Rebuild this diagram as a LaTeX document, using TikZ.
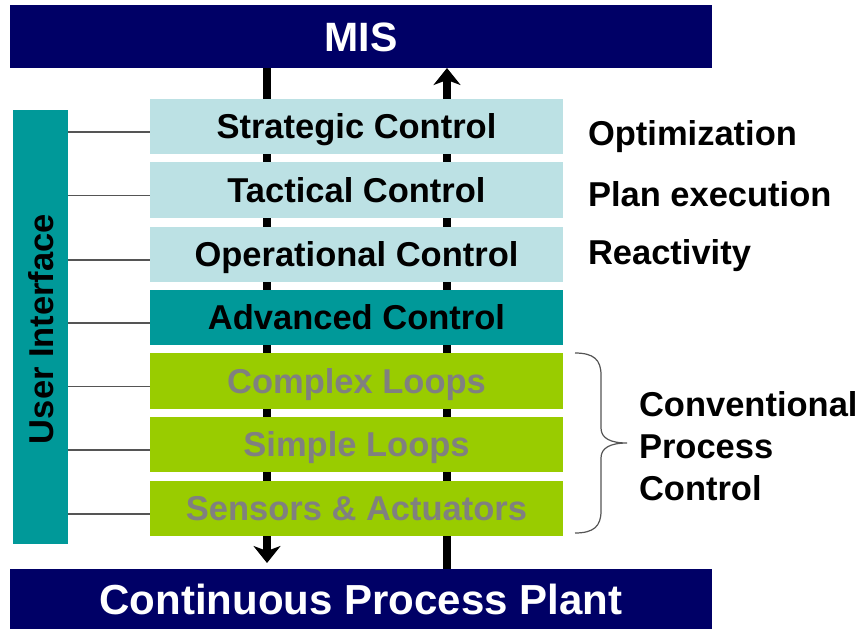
\documentclass[tikz,border=0pt]{standalone}
\usepackage{fontspec}
\setmainfont{Liberation Sans}
\usetikzlibrary{arrows.meta}
\definecolor{navy}{RGB}{0,0,102}
\definecolor{paleteal}{RGB}{188,225,228}
\definecolor{deepteal}{RGB}{0,153,153}
\definecolor{lime}{RGB}{153,204,0}
\definecolor{loopgray}{RGB}{128,128,128}
\definecolor{wire}{RGB}{85,85,85}
\begin{document}
\begin{tikzpicture}[x=1pt,y=-1pt,
  every node/.style={inner sep=0pt, outer sep=0pt,
    font=\bfseries\fontsize{34.5}{42}\selectfont},
  band/.style={fill=navy, text=white, anchor=north west,
    minimum width=702pt, minimum height=63pt,
    font=\bfseries\fontsize{41}{48}\selectfont,
    text height=29.4pt, text depth=0pt},
  layer/.style={anchor=north west, minimum width=413pt, minimum height=55pt,
    text height=24.7pt, text depth=0pt},
  upper/.style={layer, fill=paleteal, text=black},
  loop/.style={layer, fill=lime, text=loopgray},
  note/.style={anchor=west, text height=24.7pt, text depth=0pt},
  link/.style={draw=wire, line width=1.5pt},
  shaft/.style={line width=8pt, -{Stealth[length=17pt,width=27pt,inset=5pt]}},
  bracepen/.style={draw=wire, line width=1.2pt}
]
\useasboundingbox (0,0) rectangle (858,629);

% information flow between plant and MIS
\coordinate (downtop) at (267,68);
\coordinate (downtip) at (267,563);
\coordinate (upfoot) at (447,569);
\coordinate (uptip) at (447,68);
\draw[shaft] (downtop) -- (downtip);
\draw[shaft] (upfoot) -- (uptip);

% top and bottom bands
\node[band] (mis) at (10,5) {MIS};
\node[band, minimum height=60pt, font=\bfseries\fontsize{42}{48}\selectfont,
  text height=30pt] (plant) at (10,569) {Continuous Process Plant};

% control hierarchy
\node[upper] (s1) at (150,99) {Strategic Control};
\node[upper, minimum height=56pt] (s2) at (150,162) {Tactical Control};
\node[upper] (s3) at (150,227) {Operational Control};
\node[layer, fill=deepteal, text=black] (s4) at (150,290) {Advanced Control};
\node[loop, minimum height=56pt] (s5) at (150,353) {Complex Loops};
\node[loop] (s6) at (150,417) {Simple Loops};
\node[loop] (s7) at (150,481) {Sensors \& Actuators};

% user interface bar
\node[fill=deepteal, anchor=north west, minimum width=55pt, minimum height=434pt] (ui) at (13,110) {};
\node[rotate=90, text height=24.7pt, text depth=0pt] (uitext) at (41,329) {User Interface};

\foreach \n in {s1,s2,s3,s4,s5,s6,s7}{
  \coordinate (tap\n) at ([yshift=-5.5pt]\n.west);
  \draw[link] (ui.east |- tap\n) -- (tap\n);
}

% functions of the upper levels
\node[note] (opt) at (588,133) {Optimization};
\node[note] (plan) at (588,194) {Plan execution};
\node[note] (react) at (588,252.5) {Reactivity};

% conventional process control group
\draw[bracepen] (575,353) .. controls (594,353) and (601,360) .. (601,375)
  -- (601,428) .. controls (601,438) and (610,443) .. (627,443)
  .. controls (610,443) and (601,448) .. (601,458)
  -- (601,511) .. controls (601,526) and (594,533) .. (575,533);
\node[anchor=west, align=left] (cpc) at (639,446) {Conventional\\Process\\Control};
\end{tikzpicture}
\end{document}
